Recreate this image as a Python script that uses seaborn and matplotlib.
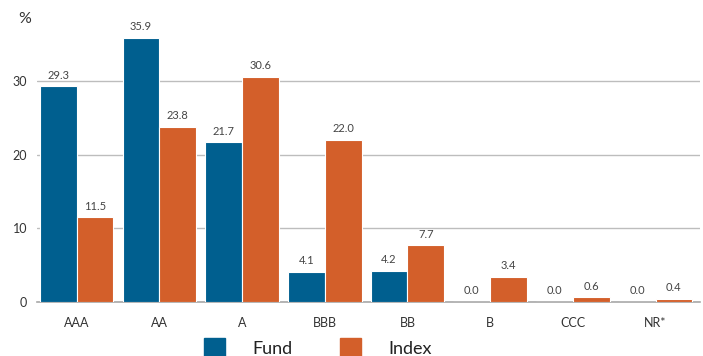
import pandas as pd
import matplotlib
matplotlib.use("Agg")
import matplotlib.pyplot as plt
import seaborn as sns

ratings = ["AAA", "AA", "A", "BBB", "BB", "B", "CCC", "NR*"]
fund = [29.3, 35.9, 21.7, 4.1, 4.2, 0.0, 0.0, 0.0]
index = [11.5, 23.8, 30.6, 22.0, 7.7, 3.4, 0.6, 0.4]
series = ["Fund", "Index"]
colors = ["#005f8f", "#d35f2a"]

df = pd.DataFrame({
    "rating": ratings * 2,
    "value": fund + index,
    "series": ["Fund"] * len(ratings) + ["Index"] * len(ratings),
})

sns.set_theme(style="white")
plt.rcParams["font.family"] = ["Lato", "DejaVu Sans"]

fig = plt.figure(figsize=(7.03, 3.56), dpi=100)
ax = fig.add_axes([0.0526, 0.152, 0.9434, 0.786])

sns.barplot(data=df, x="rating", y="value", hue="series", palette=colors,
            order=ratings, hue_order=series, width=0.89, edgecolor="white",
            linewidth=0.8, saturation=1, ax=ax, legend=False, zorder=3)

ax.set_ylim(0, 38)
ax.set_xlim(-0.48, 7.54)
ax.set_yticks([0, 10, 20, 30])
ax.yaxis.grid(True, color="#bdbdbd", linewidth=1, zorder=0)
ax.set_axisbelow(True)
for s in ["top", "right", "left"]:
    ax.spines[s].set_visible(False)
ax.spines["bottom"].set_color("#a8a8a8")
ax.spines["bottom"].set_linewidth(1.2)
ax.set_xlabel("")
ax.set_ylabel("")
ax.tick_params(axis="both", length=0, labelsize=9, labelcolor="#333333")
ax.tick_params(axis="x", pad=11)
ax.tick_params(axis="y", pad=7)

for cont in ax.containers:
    ax.bar_label(cont, fmt="%.1f", padding=4, fontsize=8, color="#444444")

fig.text(0.026, 0.935, "%", fontsize=11.5, color="#333333")

handles = [plt.Rectangle((0, 0), 1, 1, color=c) for c in colors]
fig.legend(handles, series, loc="lower center", bbox_to_anchor=(0.452, -0.05),
           ncol=2, frameon=False, fontsize=13, handlelength=1.2, handleheight=1.3,
           handletextpad=1.5, columnspacing=2.6, labelcolor="#222222")

fig.savefig("out.png", dpi=100)
